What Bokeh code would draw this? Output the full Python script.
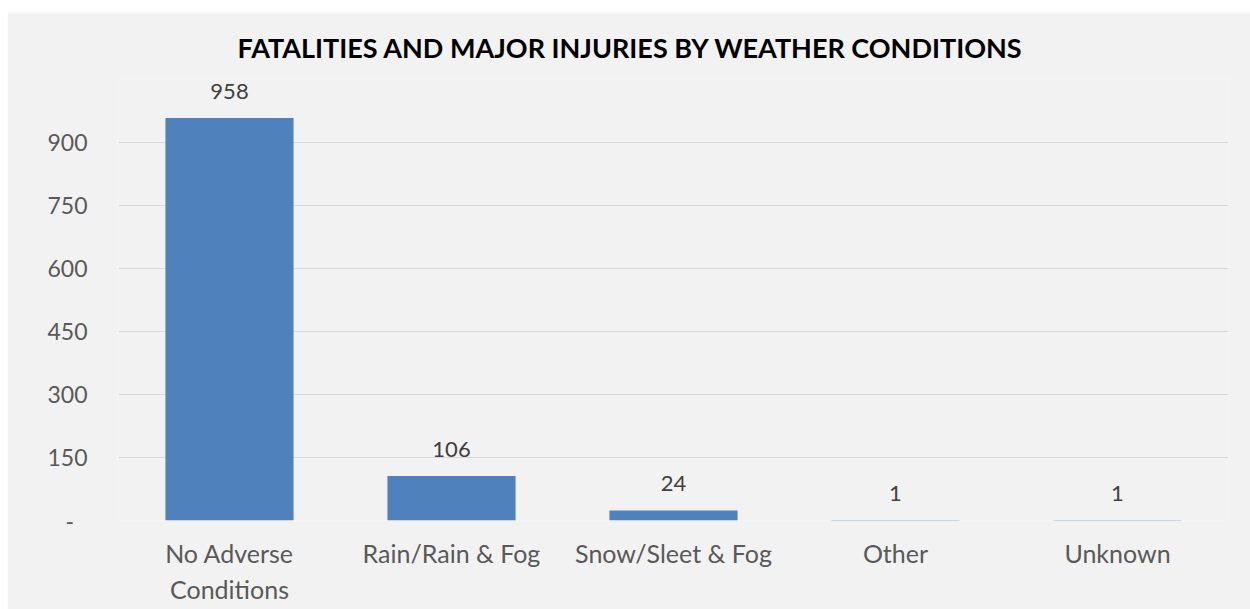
from bokeh.plotting import figure
from bokeh.models import ColumnDataSource, FactorRange, Range1d, FixedTicker, Title
from bokeh.core.properties import value
from bokeh.embed import file_html
from bokeh.resources import INLINE

categories = ["No Adverse\nConditions", "Rain/Rain & Fog", "Snow/Sleet & Fog", "Other", "Unknown"]
counts = [958, 106, 24, 1, 1]
y_ticks = [0, 150, 300, 450, 600, 750, 900]
title_text = "FATALITIES AND MAJOR INJURIES BY WEATHER CONDITIONS"

FONT = "Lato"
BG = "#f2f2f2"

src = ColumnDataSource(dict(cat=categories, val=counts, lbl=[str(v) for v in counts]))

p = figure(
    x_range=FactorRange(*categories, range_padding=0),
    y_range=Range1d(0, 1052),
    width=1243, height=597,
    output_backend="svg", toolbar_location=None, title=None,
    min_border_left=111, min_border_right=22, min_border_top=66, min_border_bottom=89,
    background_fill_color=BG, border_fill_color=BG,
)
p.margin = (12, 0, 0, 7)
p.outline_line_color = None

p.vbar(x="cat", top="val", width=0.577, source=src, fill_color="#4f81bd", line_color=None)
p.text(x="cat", y="val", text="lbl", source=src, text_align="center", text_baseline="bottom",
       y_offset=-19, text_font=value(FONT), text_font_size="22px", text_color="#404040")

p.xgrid.grid_line_color = None
p.ygrid.grid_line_color = "#d9d9d9"
p.ygrid.grid_line_width = 1
p.yaxis.ticker = FixedTicker(ticks=y_ticks)
p.yaxis.major_label_overrides = {0: "-\u2007"}

for ax in (p.xaxis[0], p.yaxis[0]):
    ax.axis_line_color = None
    ax.major_tick_line_color = None
    ax.minor_tick_line_color = None
    ax.major_label_text_font = FONT
    ax.major_label_text_color = "#595959"

p.yaxis.major_label_text_font_size = "23px"
p.xaxis.major_label_text_font_size = "25px"
p.yaxis.major_label_standoff = 25
p.xaxis.major_label_standoff = 11

title = Title(text=title_text, align="left", offset=119, standoff=30,
              text_font=FONT, text_font_size="27px", text_font_style="bold", text_color="#000000")
p.add_layout(title, "above")

open("out.html", "w").write(file_html(p, INLINE))
